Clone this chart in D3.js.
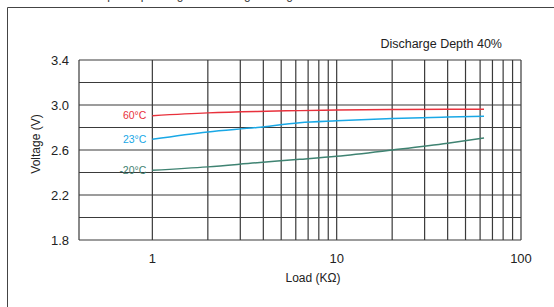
<!DOCTYPE html>
<html>
<head>
<meta charset="utf-8">
<script src="https://cdn.jsdelivr.net/npm/d3@7"></script>
<style>
  body { margin: 0; background: #fff; }
  svg { display: block; font-family: "Liberation Sans", Arial, sans-serif; }
</style>
</head>
<body>
<script>
var width = 554;
var height = 307;

// data
var loads = [1, 2, 3.7, 6.3, 10, 20, 40, 63];
var series = ["60°C", "23°C", "-20°C"];
var v60 = [2.905, 2.93, 2.943, 2.95, 2.955, 2.96, 2.963, 2.963];
var v23 = [2.695, 2.76, 2.80, 2.843, 2.86, 2.88, 2.893, 2.90];
var vm20 = [2.42, 2.45, 2.487, 2.517, 2.545, 2.60, 2.66, 2.707];
var colors = ["#e8313c", "#19a8e6", "#3f8372"];
var yTicks = [3.4, 3.0, 2.6, 2.2, 1.8];
var xTicks = [1, 10, 100];

var values = [v60, v23, vm20];

var svg = d3.select("body")
            .append("svg")
            .attr("width", width)
            .attr("height", height);

// outer frame (only top and left visible)
svg.append("path")
  .attr("d", "M7.5,307V7.5H554")
  .attr("fill", "none")
  .attr("stroke", "#444")
  .attr("stroke-width", 1);

// title cut by the top edge
svg.append("text")
  .attr("x", 88)
  .attr("y", -1)
  .attr("font-size", 12)
  .attr("fill", "#333")
  .text("Output depending on Discharge voltage");

var x = d3.scaleLog().domain([0.4, 100]).range([79, 521]);
var y = d3.scaleLinear().domain([1.8, 3.4]).range([240, 60]);

// grid
var vLines = [];
[1, 10].forEach(function(d) {
  for (var i = 1; i <= 9; i++) vLines.push(d * i);
});
vLines.push(100);

svg.append("g")
  .selectAll("line")
  .data(vLines)
  .enter().append("line")
  .attr("x1", function(d) { return x(d); })
  .attr("x2", function(d) { return x(d); })
  .attr("y1", y(3.4))
  .attr("y2", y(1.8))
  .attr("stroke", "#3a3a3a")
  .attr("stroke-width", 1.2);

svg.append("g")
  .selectAll("line")
  .data(d3.range(9).map(function(i) { return 1.8 + i * 0.2; }))
  .enter().append("line")
  .attr("x1", x(0.4))
  .attr("x2", x(100))
  .attr("y1", function(d) { return y(d); })
  .attr("y2", function(d) { return y(d); })
  .attr("stroke", "#3a3a3a")
  .attr("stroke-width", 1.2);

svg.append("line")
  .attr("x1", x(0.4)).attr("x2", x(0.4))
  .attr("y1", y(3.4)).attr("y2", y(1.8))
  .attr("stroke", "#3a3a3a")
  .attr("stroke-width", 1.2);

// axes labels
svg.append("g")
  .selectAll("text")
  .data(yTicks)
  .enter().append("text")
  .attr("x", 69)
  .attr("y", function(d) { return y(d); })
  .attr("dy", "0.36em")
  .attr("text-anchor", "end")
  .attr("font-size", 13)
  .attr("fill", "#222")
  .text(function(d) { return d3.format(".1f")(d); });

svg.append("g")
  .selectAll("text")
  .data(xTicks)
  .enter().append("text")
  .attr("x", function(d) { return x(d); })
  .attr("y", 263)
  .attr("text-anchor", "middle")
  .attr("font-size", 13)
  .attr("fill", "#222")
  .text(function(d) { return d; });

svg.append("text")
  .attr("x", 313)
  .attr("y", 282)
  .attr("text-anchor", "middle")
  .attr("font-size", 12)
  .attr("fill", "#222")
  .text("Load (KΩ)");

svg.append("text")
  .attr("transform", "translate(40,144) rotate(-90)")
  .attr("text-anchor", "middle")
  .attr("font-size", 12)
  .attr("fill", "#222")
  .text("Voltage (V)");

svg.append("text")
  .attr("x", 502)
  .attr("y", 48)
  .attr("text-anchor", "end")
  .attr("font-size", 12.5)
  .attr("fill", "#222")
  .text("Discharge Depth 40%");

// curves
var line = d3.line()
  .x(function(d) { return x(d[0]); })
  .y(function(d) { return y(d[1]); })
  .curve(d3.curveMonotoneX);

values.forEach(function(vals, i) {
  var pts = loads.map(function(l, j) { return [l, vals[j]]; });
  svg.append("path")
    .datum(pts)
    .attr("d", line)
    .attr("fill", "none")
    .attr("stroke", colors[i])
    .attr("stroke-width", 1.5);

  svg.append("text")
    .attr("x", x(loads[0]) - 6)
    .attr("y", y(vals[0]))
    .attr("dy", "0.35em")
    .attr("text-anchor", "end")
    .attr("font-size", 10.5)
    .attr("fill", colors[i])
    .text(series[i]);
});
</script>
</body>
</html>
